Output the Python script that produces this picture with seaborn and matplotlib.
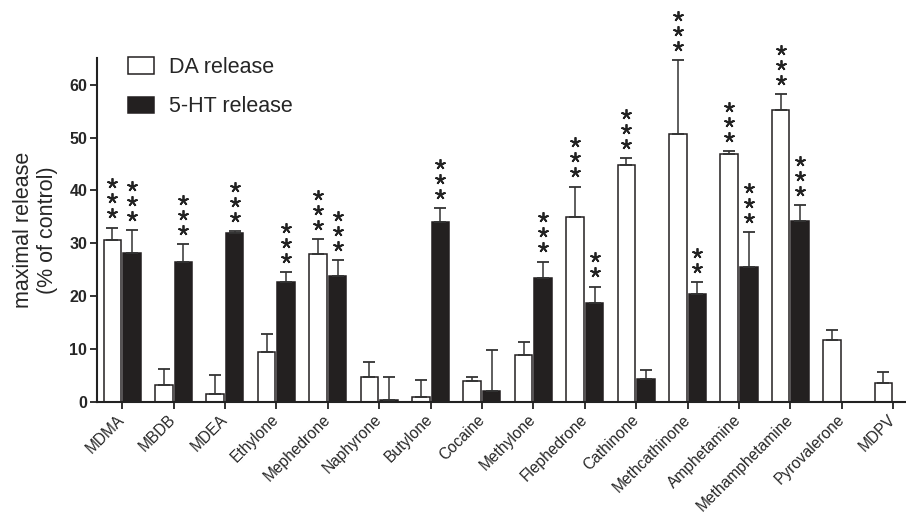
import numpy as np
import pandas as pd
import matplotlib
matplotlib.use("Agg")
import matplotlib.pyplot as plt
import matplotlib.transforms as mtransforms
import seaborn as sns

drugs = ["MDMA", "MBDB", "MDEA", "Ethylone", "Mephedrone", "Naphyrone", "Butylone",
         "Cocaine", "Methylone", "Flephedrone", "Cathinone", "Methcathinone",
         "Amphetamine", "Methamphetamine", "Pyrovalerone", "MDPV"]
da_mean = [30.6, 3.2, 1.45, 9.5, 27.9, 4.65, 0.95, 4.0, 8.9, 35.0, 44.9, 50.7, 46.8, 55.3, 11.7, 3.65]
da_sem = [2.3, 3.1, 3.65, 3.3, 2.9, 3.0, 3.2, 0.8, 2.5, 5.7, 1.2, 13.9, 0.6, 2.9, 1.95, 2.0]
ht_mean = [28.2, 26.5, 31.9, 22.6, 23.8, 0.4, 34.0, 2.1, 23.5, 18.7, 4.3, 20.4, 25.6, 34.2, np.nan, np.nan]
ht_sem = [4.3, 3.3, 0.4, 1.9, 3.0, 4.4, 2.6, 7.7, 3.0, 3.1, 1.7, 2.2, 6.5, 3.0, np.nan, np.nan]
da_stars = [3, 0, 0, 0, 3, 0, 0, 0, 0, 3, 3, 3, 3, 3, 0, 0]
ht_stars = [3, 3, 3, 3, 3, 0, 3, 0, 3, 2, 0, 2, 3, 3, 0, 0]
series = ["DA release", "5-HT release"]
yticks = [0, 10, 20, 30, 40, 50, 60]

dark = "#231f20"
df = pd.DataFrame({
    "drug": drugs * 2,
    "type": [series[0]] * len(drugs) + [series[1]] * len(drugs),
    "value": da_mean + ht_mean,
})
errs = {series[0]: da_sem, series[1]: ht_sem}
stars = {series[0]: da_stars, series[1]: ht_stars}

sns.set_style("ticks")
plt.rcParams["font.family"] = ["Liberation Sans", "DejaVu Sans"]

fig = plt.figure(figsize=(9.06, 5.17), dpi=100)
ax = fig.add_axes([0.107, 0.2224, 0.893, 0.665])

sns.barplot(data=df, x="drug", y="value", hue="type", order=drugs, hue_order=series,
            palette={series[0]: "white", series[1]: dark}, edgecolor=dark,
            linewidth=1.1, width=0.76, gap=0.1, errorbar=None, ax=ax)

for cont, s in zip(ax.containers, series):
    for bar in cont:
        h = bar.get_height()
        if not np.isfinite(h):
            continue
        xc = bar.get_x() + bar.get_width() / 2
        idx = int(round(xc))
        e = errs[s][idx]
        ax.errorbar(xc, h, yerr=[[0], [e]], fmt="none", ecolor="#333333",
                    elinewidth=1.1, capsize=4.5, capthick=1.3, zorder=1)
        n = stars[s][idx]
        for k in range(n):
            tr = mtransforms.offset_copy(ax.transData, fig=fig, x=0, y=10.5 + 10.8 * k,
                                         units="points")
            ax.plot([xc], [h + e], marker=(5, 2, 0), markersize=7.5, markeredgewidth=1.3,
                    color="#222222", transform=tr, clip_on=False)

ax.set_xlim(-0.49, 15.25)
ax.set_ylim(0, 65)
ax.set_yticks(yticks)
ax.set_yticklabels([str(v) for v in yticks], fontweight="bold", fontsize=11.5)
ax.set_xlabel("")
ax.set_ylabel("maximal release\n(% of control)", fontsize=15.5, labelpad=8)
ax.set_xticks(range(len(drugs)))
ax.set_xticklabels(drugs, rotation=45, ha="right", va="center", rotation_mode="anchor",
                   fontsize=11.2)
ax.tick_params(axis="x", length=5, width=1.3, color="#222222", pad=6)
ax.tick_params(axis="y", length=5, width=1.3, color="#222222", pad=2)
sns.despine(ax=ax)
for sp in ["left", "bottom"]:
    ax.spines[sp].set_linewidth(1.5)
    ax.spines[sp].set_color("#222222")

leg = ax.legend(frameon=False, loc="upper left", bbox_to_anchor=(128 / 906, 1 - 57 / 517),
                bbox_transform=fig.transFigure, fontsize=15.5, handlelength=1.2,
                handleheight=0.8, handletextpad=0.7, labelspacing=0.85, borderpad=0,
                borderaxespad=0)

fig.savefig("out.png", dpi=100)
